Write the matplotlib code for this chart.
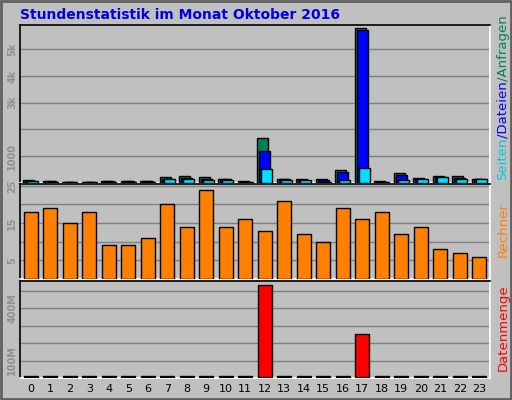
import matplotlib
matplotlib.use("Agg")
import matplotlib.pyplot as plt
import numpy as np

hours = list(range(24))
anfragen = [80, 60, 30, 30, 60, 60, 60, 200, 240, 200, 150, 60, 1680, 150, 120, 120, 470, 5790, 60, 355, 170, 240, 240, 140]
dateien  = [60, 50, 20, 20, 50, 50, 50, 150, 180, 150, 130, 40, 1190, 120, 100, 90, 390, 5710, 40, 280, 140, 210, 190, 120]
seiten   = [50, 30, 10, 10, 40, 20, 40, 125, 125, 80, 110, 20, 505, 110, 80, 30, 100, 545, 20, 100, 120, 210, 140, 120]
rechner  = [18, 19, 15, 18, 9, 9, 11, 20, 14, 24, 14, 16, 13, 21, 12, 10, 19, 16, 18, 12, 14, 8, 7, 6]
datenmenge = [6, 6, 6, 6, 6, 6, 6, 6, 6, 6, 6, 6, 527, 6, 6, 6, 6, 245, 6, 6, 6, 6, 6, 6]

W, H = 512, 400
fig = plt.figure(figsize=(W/100, H/100), dpi=100, facecolor="#c0c0c0")
x = np.arange(24)
L, R = 20/W, 490/W

def mk(y0, y1):
    ax = fig.add_axes([L, 1-y1/H, R-L, (y1-y0)/H], facecolor="#c0c0c0")
    ax.set_xlim(-0.55, 23.55)
    for s in ax.spines.values():
        s.set_color("white"); s.set_linewidth(1.2)
    ax.spines["left"].set_color("black"); ax.spines["top"].set_color("black")
    ax.tick_params(axis="y", length=0, labelsize=7, labelcolor="#909090", rotation=90, pad=2)
    ax.tick_params(axis="x", length=0)
    ax.set_axisbelow(True)
    ax.yaxis.grid(True, color="#808080", lw=1)
    return ax

bw = 0.58
ax1 = mk(25, 183)
ax1.bar(x-0.1, anfragen, bw, bottom=15, color="#00805c", edgecolor="black", lw=1, zorder=3)
ax1.bar(x, dateien, bw, bottom=15, color="#0000ff", edgecolor="black", lw=1, zorder=3)
ax1.bar(x+0.1, seiten, bw, bottom=15, color="#00e0ff", edgecolor="black", lw=1, zorder=3)
ax1.set_ylim(0, 5900)
ax1.set_yticks([1000, 2000, 3000, 4000, 5000])
ax1.set_yticklabels(["1000", "", "3k", "4k", "5k"], fontweight="bold", va="center")
ax1.set_xticks([])

ax2 = mk(184, 279)
ax2.bar(x, rechner, 0.7, color="#ff8000", edgecolor="black", lw=1, zorder=3)
ax2.set_ylim(0, 25.5)
ax2.set_yticks([5, 10, 15, 20, 25])
ax2.set_yticklabels(["5", "", "15", "", "25"], fontweight="bold", va="center")
ax2.set_xticks([])

ax3 = mk(281, 378)
ax3.bar(x, datenmenge, 0.7, bottom=4, color="#ff0000", edgecolor="black", lw=1, zorder=3)
ax3.set_ylim(0, 555)
ax3.set_yticks([100, 200, 300, 400, 500])
ax3.set_yticklabels(["100M", "", "", "400M", ""], fontweight="bold", va="center")
ax3.set_xticks(x)
ax3.set_xticklabels([str(h) for h in hours], fontsize=8)
ax3.tick_params(axis="x", pad=4)

fig.text(20/W, 1-15/H, "Stundenstatistik im Monat Oktober 2016", color="#0000e0",
         fontsize=10, fontweight="bold", va="center")

fs = 9.5
txt = fig.text(503/W, 1-180/H, "Seiten", color="#00c8e0", rotation=90, fontsize=fs, ha="center", va="bottom")
fig.canvas.draw()
r = fig.canvas.get_renderer()
cur = txt
for t, c in [("/Dateien", "#0000ff"), ("/Anfragen", "#00805c")]:
    bb = cur.get_window_extent(r)
    cur = fig.text(503/W, bb.y1/fig.bbox.height, t, color=c, rotation=90, fontsize=fs, ha="center", va="bottom")
    fig.canvas.draw()
fig.text(503/W, 1-230/H, "Rechner", color="#ff8000", rotation=90, fontsize=fs, ha="center", va="center")
fig.text(503/W, 1-328/H, "Datenmenge", color="#ff0000", rotation=90, fontsize=fs, ha="center", va="center")

fig.patches.append(plt.Rectangle((0.002, 0.002), 0.996, 0.996, transform=fig.transFigure,
                                 fill=False, edgecolor="#606060", lw=2))
fig.savefig("out.png", dpi=100, facecolor=fig.get_facecolor())
